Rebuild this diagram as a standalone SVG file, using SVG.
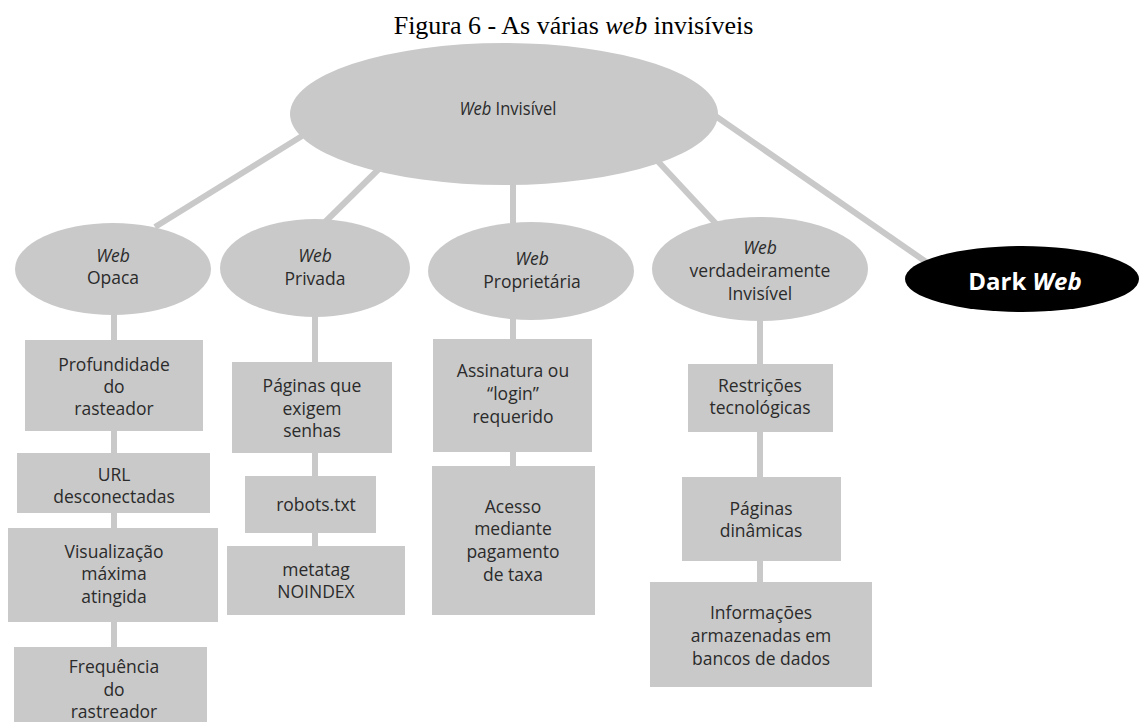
<svg xmlns="http://www.w3.org/2000/svg" width="1141" height="722" viewBox="0 0 1141 722">
  <style>
    .shape { fill: #c9c9c9; }
    .link { stroke: #c9c9c9; stroke-width: 6; fill: none; }
    .lbl { font-family: "Open Sans", "Liberation Sans", sans-serif; font-size: 17.5px; fill: #2b2b2b; text-anchor: middle; }
    .it { font-style: italic; }
    .title { font-family: "Liberation Serif", "Times New Roman", serif; font-size: 26px; fill: #000; text-anchor: middle; }
    .dark { font-family: "Open Sans", "Liberation Sans", sans-serif; font-size: 24px; font-weight: bold; fill: #fff; text-anchor: middle; }
  </style>
  <rect width="1141" height="722" fill="#fff"/>

  <text class="title" x="573.5" y="34">Figura 6 - As várias <tspan font-style="italic">web</tspan> invisíveis</text>

  <!-- connectors -->
  <g id="connectors">
    <line class="link" x1="302" y1="136" x2="155" y2="227"/>
    <line class="link" x1="388" y1="160" x2="323" y2="224"/>
    <line class="link" x1="513" y1="180" x2="513" y2="470"/>
    <line class="link" x1="652" y1="155" x2="720" y2="228"/>
    <line class="link" x1="714" y1="115" x2="932" y2="266"/>
    <line class="link" x1="114" y1="310" x2="114" y2="650"/>
    <line class="link" x1="315" y1="312" x2="315" y2="550"/>
    <line class="link" x1="760" y1="315" x2="760" y2="586"/>
  </g>

  <g id="web-invisivel">
    <ellipse class="shape" cx="504" cy="114" rx="214" ry="71"/>
    <text class="lbl" x="508" y="115" font-size="22" textLength="97" lengthAdjust="spacingAndGlyphs"><tspan class="it">Web</tspan> Invisível</text>
  </g>

  <g id="web-opaca">
    <ellipse class="shape" cx="113" cy="269" rx="98" ry="46"/>
    <text class="lbl" x="113" y="262"><tspan class="it">Web</tspan></text>
    <text class="lbl" x="113" y="284">Opaca</text>
  </g>

  <g id="web-privada">
    <ellipse class="shape" cx="315" cy="268" rx="95" ry="49"/>
    <text class="lbl" x="315" y="262"><tspan class="it">Web</tspan></text>
    <text class="lbl" x="315" y="285">Privada</text>
  </g>

  <g id="web-proprietaria">
    <ellipse class="shape" cx="531" cy="271" rx="103" ry="49"/>
    <text class="lbl" x="532" y="265"><tspan class="it">Web</tspan></text>
    <text class="lbl" x="532" y="288">Proprietária</text>
  </g>

  <g id="web-verdadeiramente">
    <ellipse class="shape" cx="760" cy="269" rx="108" ry="52"/>
    <text class="lbl" x="760" y="254"><tspan class="it">Web</tspan></text>
    <text class="lbl" x="760" y="277">verdadeiramente</text>
    <text class="lbl" x="760" y="300">Invisível</text>
  </g>

  <g id="dark-web">
    <ellipse cx="1022" cy="279" rx="117" ry="33" fill="#000"/>
    <text class="dark" x="1025" y="290">Dark <tspan font-style="italic">Web</tspan></text>
  </g>

  <!-- Web Opaca column -->
  <g id="profundidade">
    <rect class="shape" x="25" y="340" width="178" height="91"/>
    <text class="lbl" x="114" y="371">Profundidade</text>
    <text class="lbl" x="114" y="393">do</text>
    <text class="lbl" x="114" y="415">rasteador</text>
  </g>
  <g id="url">
    <rect class="shape" x="17" y="453" width="193" height="60"/>
    <text class="lbl" x="114" y="481">URL</text>
    <text class="lbl" x="114" y="503">desconectadas</text>
  </g>
  <g id="visualizacao">
    <rect class="shape" x="8" y="528" width="210" height="94"/>
    <text class="lbl" x="114" y="558">Visualização</text>
    <text class="lbl" x="114" y="580">máxima</text>
    <text class="lbl" x="114" y="603">atingida</text>
  </g>
  <g id="frequencia">
    <rect class="shape" x="14" y="647" width="193" height="80"/>
    <text class="lbl" x="114" y="673">Frequência</text>
    <text class="lbl" x="114" y="696">do</text>
    <text class="lbl" x="114" y="718">rastreador</text>
  </g>

  <!-- Web Privada column -->
  <g id="paginas-senhas">
    <rect class="shape" x="232" y="362" width="160" height="91"/>
    <text class="lbl" x="312" y="392">Páginas que</text>
    <text class="lbl" x="312" y="415">exigem</text>
    <text class="lbl" x="312" y="437">senhas</text>
  </g>
  <g id="robots">
    <rect class="shape" x="245" y="476" width="131" height="57"/>
    <text class="lbl" x="316" y="511">robots.txt</text>
  </g>
  <g id="metatag">
    <rect class="shape" x="227" y="546" width="178" height="69"/>
    <text class="lbl" x="316" y="576">metatag</text>
    <text class="lbl" x="316" y="598">NOINDEX</text>
  </g>

  <!-- Web Proprietária column -->
  <g id="assinatura">
    <rect class="shape" x="433" y="339" width="159" height="113"/>
    <text class="lbl" x="513" y="377">Assinatura ou</text>
    <text class="lbl" x="513" y="400">“login”</text>
    <text class="lbl" x="513" y="423">requerido</text>
  </g>
  <g id="acesso">
    <rect class="shape" x="432" y="466" width="163" height="149"/>
    <text class="lbl" x="513" y="513">Acesso</text>
    <text class="lbl" x="513" y="535">mediante</text>
    <text class="lbl" x="513" y="558">pagamento</text>
    <text class="lbl" x="513" y="581">de taxa</text>
  </g>

  <!-- Web verdadeiramente Invisível column -->
  <g id="restricoes">
    <rect class="shape" x="688" y="364" width="145" height="68"/>
    <text class="lbl" x="760" y="392">Restrições</text>
    <text class="lbl" x="760" y="414">tecnológicas</text>
  </g>
  <g id="paginas-dinamicas">
    <rect class="shape" x="682" y="477" width="159" height="84"/>
    <text class="lbl" x="761" y="515">Páginas</text>
    <text class="lbl" x="761" y="537">dinâmicas</text>
  </g>
  <g id="informacoes">
    <rect class="shape" x="650" y="582" width="222" height="105"/>
    <text class="lbl" x="761" y="619">Informações</text>
    <text class="lbl" x="761" y="642">armazenadas em</text>
    <text class="lbl" x="761" y="665">bancos de dados</text>
  </g>
</svg>
